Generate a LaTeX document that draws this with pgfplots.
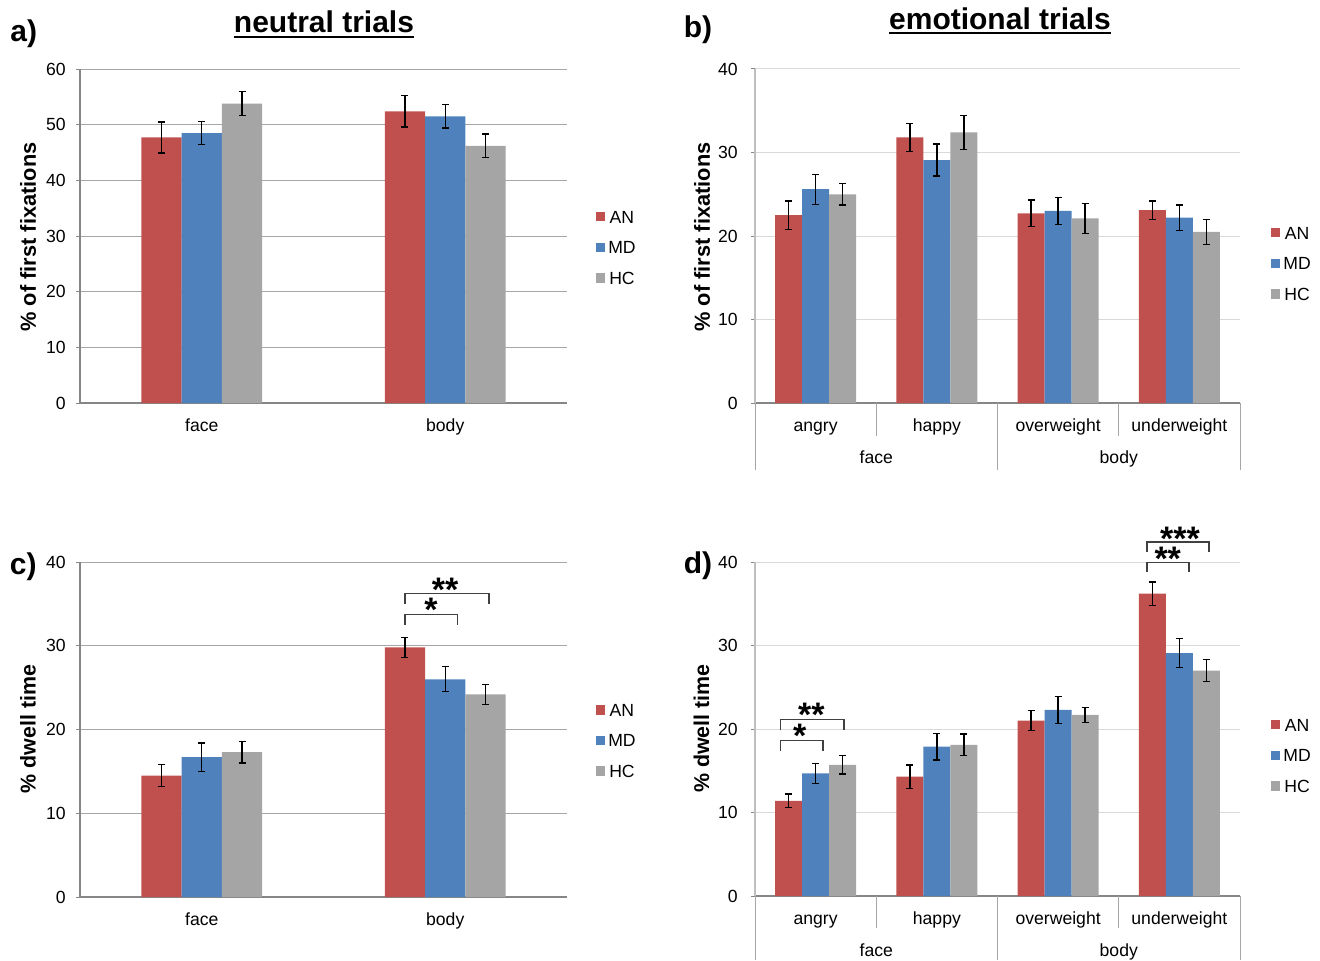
\documentclass[border=0pt]{standalone}
\usepackage{fontspec}
\setmainfont{Liberation Sans}
\usepackage{pgfplots}
\usepackage{pgfplotstable}
\pgfplotsset{compat=1.18}
\definecolor{anred}{HTML}{C0504D}
\definecolor{mdblue}{HTML}{4F81BD}
\definecolor{hcgray}{HTML}{A5A5A5}
\definecolor{axgray}{HTML}{868686}
\definecolor{gridA}{HTML}{A6A6A6}
\definecolor{gridB}{HTML}{D9D9D9}
\definecolor{axB}{HTML}{BFBFBF}
\definecolor{sepgray}{HTML}{A6A6A6}
\definecolor{brk}{HTML}{404040}

\pgfplotstableread{
x AN ANe MD MDe HC HCe
0 47.7 2.8 48.5 2.1 53.8 2.1
1 52.4 2.8 51.5 2.1 46.2 2.1
}\dataA
\pgfplotstableread{
x AN ANe MD MDe HC HCe
0 22.5 1.7 25.6 1.8 25.0 1.3
1 31.8 1.7 29.1 1.9 32.4 2.0
2 22.7 1.6 23.0 1.6 22.1 1.8
3 23.1 1.1 22.2 1.5 20.5 1.5
}\dataB
\pgfplotstableread{
x AN ANe MD MDe HC HCe
0 14.5 1.3 16.7 1.7 17.3 1.3
1 29.8 1.2 26.0 1.5 24.2 1.2
}\dataC
\pgfplotstableread{
x AN ANe MD MDe HC HCe
0 11.4 0.8 14.7 1.2 15.7 1.1
1 14.3 1.4 17.9 1.6 18.1 1.3
2 21.0 1.2 22.3 1.6 21.7 0.9
3 36.2 1.4 29.1 1.7 27.0 1.3
}\dataD

\newcommand{\tfont}{\fontsize{8.8}{10.5}\selectfont}
\tikzset{star/.style={anchor=base, inner sep=0pt, font=\fontsize{17}{17}\selectfont\bfseries,
  text height=0.72em, text depth=-0.40em}}
\pgfplotsset{
  errstyle/.style={error bars/.cd, y dir=both, y explicit,
    error bar style={line width=0.65pt, black},
    error mark options={rotate=90, mark size=1.75pt, line width=0.65pt, black}},
  sqlegend/.style={legend image code/.code={\fill[##1] (0pt,-2.3pt) rectangle (4.65pt,2.35pt);}},
  base/.style={
    scale only axis, anchor=south west, ymin=0, ytick distance=10,
    axis x line*=bottom, axis y line*=left,
    x axis line style={draw=axgray, line width=1pt, -},
    ymajorgrids,
    tick align=outside, major tick length=2pt,
    ytick style={draw=axgray, line width=0.5pt},
    xtick style={draw=none},
    ybar, sqlegend, clip=false,
    ticklabel style={font=\tfont},
    /pgf/number format/assume math mode=true,
    yticklabel style={anchor=east, inner sep=0pt},
    xticklabel style={anchor=base, inner sep=0pt, yshift=-12pt},
    legend style={anchor=west, draw=none, fill=none, inner sep=0pt, outer sep=0pt,
      row sep=9.1pt, font=\tfont,
      nodes={inner sep=0pt, text height=6.2pt, text depth=0pt},
      /tikz/every odd column/.append style={column sep=1.5pt}},
  },
  twocat/.style={base, width=243.5pt, xmin=-0.5, xmax=1.5, xtick={0,1},
    xticklabels={face,body}, bar width=0.1655,
    major grid style={gridA, line width=0.5pt},
    y axis line style={draw=axgray, line width=0.6pt, -},
    yticklabel style={xshift=-5pt},
    legend style={at={(1.0595,0.4656)}}},
  fourcat/.style={base, width=242.5pt, xmin=-0.5, xmax=3.5, xtick={0,1,2,3},
    xticklabels={angry,happy,overweight,underweight}, bar width=0.2227,
    major grid style={gridB, line width=0.5pt},
    y axis line style={draw=axB, line width=0.6pt, -},
    yticklabel style={xshift=-6.5pt}},
}

\begin{document}
\begin{tikzpicture}
\useasboundingbox (0,0) rectangle (660pt,480pt);

% ---------- a ----------
\begin{axis}[twocat, at={(40pt,278.5pt)}, height=167pt, ymax=60]
\addplot[fill=anred, draw=none, bar shift=-0.1655, errstyle] table[x=x,y=AN,y error=ANe]{\dataA};
\addplot[fill=mdblue, draw=none, bar shift=0, errstyle] table[x=x,y=MD,y error=MDe]{\dataA};
\addplot[fill=hcgray, draw=none, bar shift=0.1655, errstyle] table[x=x,y=HC,y error=HCe]{\dataA};
\legend{AN,MD,HC}
\end{axis}

% ---------- b ----------
\begin{axis}[fourcat, at={(377.5pt,278.5pt)}, height=167pt, ymax=40,
  legend style={at={(1.064,0.4177)}}]
\addplot[fill=anred, draw=none, bar shift=-0.2227, errstyle] table[x=x,y=AN,y error=ANe]{\dataB};
\addplot[fill=mdblue, draw=none, bar shift=0, errstyle] table[x=x,y=MD,y error=MDe]{\dataB};
\addplot[fill=hcgray, draw=none, bar shift=0.2227, errstyle] table[x=x,y=HC,y error=HCe]{\dataB};
\legend{AN,MD,HC}
\draw[sepgray, line width=0.5pt] (axis cs:0.5,0) -- ([yshift=-16.5pt]axis cs:0.5,0);
\draw[sepgray, line width=0.5pt] (axis cs:2.5,0) -- ([yshift=-16.5pt]axis cs:2.5,0);
\draw[sepgray, line width=0.5pt] (axis cs:-0.5,0) -- ([yshift=-33.5pt]axis cs:-0.5,0);
\draw[sepgray, line width=0.5pt] (axis cs:1.5,0) -- ([yshift=-33.5pt]axis cs:1.5,0);
\draw[sepgray, line width=0.5pt] (axis cs:3.5,0) -- ([yshift=-33.5pt]axis cs:3.5,0);
\node[anchor=base, font=\tfont, inner sep=0pt] at ([yshift=-30pt]axis cs:0.5,0) {face};
\node[anchor=base, font=\tfont, inner sep=0pt] at ([yshift=-30pt]axis cs:2.5,0) {body};
\end{axis}

% ---------- c ----------
\begin{axis}[twocat, at={(40pt,31.5pt)}, height=167.5pt, ymax=40,
  legend style={at={(1.0595,0.467)}}]
\addplot[fill=anred, draw=none, bar shift=-0.1655, errstyle] table[x=x,y=AN,y error=ANe]{\dataC};
\addplot[fill=mdblue, draw=none, bar shift=0, errstyle] table[x=x,y=MD,y error=MDe]{\dataC};
\addplot[fill=hcgray, draw=none, bar shift=0.1655, errstyle] table[x=x,y=HC,y error=HCe]{\dataC};
\legend{AN,MD,HC}
\draw[brk, line width=0.65pt] (axis cs:0.835,32.5) -- (axis cs:0.835,33.7) -- (axis cs:1.051,33.7) -- (axis cs:1.051,32.5);
\draw[brk, line width=0.65pt] (axis cs:0.835,35.0) -- (axis cs:0.835,36.2) -- (axis cs:1.180,36.2) -- (axis cs:1.180,35.0);
\node[star] at ([yshift=-8.5pt]axis cs:0.9415,34.9) {*};
\node[star] at ([yshift=-8.5pt]axis cs:0.999,37.3) {**};
\end{axis}

% ---------- d ----------
\begin{axis}[fourcat, at={(377.5pt,32pt)}, height=167pt, ymax=40,
  legend style={at={(1.064,0.4207)}}]
\addplot[fill=anred, draw=none, bar shift=-0.2227, errstyle] table[x=x,y=AN,y error=ANe]{\dataD};
\addplot[fill=mdblue, draw=none, bar shift=0, errstyle] table[x=x,y=MD,y error=MDe]{\dataD};
\addplot[fill=hcgray, draw=none, bar shift=0.2227, errstyle] table[x=x,y=HC,y error=HCe]{\dataD};
\legend{AN,MD,HC}
\draw[sepgray, line width=0.5pt] (axis cs:0.5,0) -- ([yshift=-16pt]axis cs:0.5,0);
\draw[sepgray, line width=0.5pt] (axis cs:2.5,0) -- ([yshift=-16pt]axis cs:2.5,0);
\draw[sepgray, line width=0.5pt] (axis cs:-0.5,0) -- ([yshift=-32pt]axis cs:-0.5,0);
\draw[sepgray, line width=0.5pt] (axis cs:1.5,0) -- ([yshift=-32pt]axis cs:1.5,0);
\draw[sepgray, line width=0.5pt] (axis cs:3.5,0) -- ([yshift=-32pt]axis cs:3.5,0);
\node[anchor=base, font=\tfont, inner sep=0pt] at ([yshift=-30.3pt]axis cs:0.5,0) {face};
\node[anchor=base, font=\tfont, inner sep=0pt] at ([yshift=-30.3pt]axis cs:2.5,0) {body};
\draw[brk, line width=0.65pt] (axis cs:-0.289,17.4) -- (axis cs:-0.289,18.6) -- (axis cs:0.060,18.6) -- (axis cs:0.060,17.4);
\draw[brk, line width=0.65pt] (axis cs:-0.289,19.9) -- (axis cs:-0.289,21.1) -- (axis cs:0.234,21.1) -- (axis cs:0.234,19.9);
\node[star] at ([yshift=-8.5pt]axis cs:-0.132,19.8) {*};
\node[star] at ([yshift=-8.5pt]axis cs:-0.035,22.3) {**};
\draw[brk, line width=0.65pt] (axis cs:2.733,38.8) -- (axis cs:2.733,39.9) -- (axis cs:3.079,39.9) -- (axis cs:3.079,38.8);
\draw[brk, line width=0.65pt] (axis cs:2.733,41.2) -- (axis cs:2.733,42.4) -- (axis cs:3.244,42.4) -- (axis cs:3.244,41.2);
\node[star] at ([yshift=-8.5pt]axis cs:2.904,41.0) {**};
\node[star] at ([yshift=-8.5pt]axis cs:3.005,43.4) {***};
\end{axis}

% ---------- titles, letters, y labels ----------
\node[anchor=base, inner sep=0pt, font=\fontsize{15}{15}\selectfont\bfseries] (ta) at (162pt,463.5pt) {neutral trials};
\draw[line width=1.15pt] ([yshift=-2.1pt]ta.base west) -- ([yshift=-2.1pt]ta.base east);
\node[anchor=base, inner sep=0pt, font=\fontsize{15}{15}\selectfont\bfseries] (tb) at (500pt,465.3pt) {emotional trials};
\draw[line width=1.15pt] ([yshift=-1.8pt]tb.base west) -- ([yshift=-1.8pt]tb.base east);

\node[inner sep=0pt, font=\fontsize{15}{15}\selectfont\bfseries] at (11.85pt,463.25pt) {a)};
\node[inner sep=0pt, font=\fontsize{15}{15}\selectfont\bfseries] at (349pt,465pt) {b)};
\node[inner sep=0pt, font=\fontsize{15}{15}\selectfont\bfseries] at (11.6pt,196.75pt) {c)};
\node[inner sep=0pt, font=\fontsize{15}{15}\selectfont\bfseries] at (349pt,197pt) {d)};

\node[inner sep=0pt, rotate=90, font=\fontsize{10.9}{12}\selectfont\bfseries] at (14pt,361.5pt) {\% of first fixations};
\node[inner sep=0pt, rotate=90, font=\fontsize{10.9}{12}\selectfont\bfseries] at (351pt,361.5pt) {\% of first fixations};
\node[inner sep=0pt, rotate=90, font=\fontsize{10.7}{12}\selectfont\bfseries] at (14pt,115.5pt) {\% dwell time};
\node[inner sep=0pt, rotate=90, font=\fontsize{10.7}{12}\selectfont\bfseries] at (350.75pt,115.75pt) {\% dwell time};
\end{tikzpicture}
\end{document}
